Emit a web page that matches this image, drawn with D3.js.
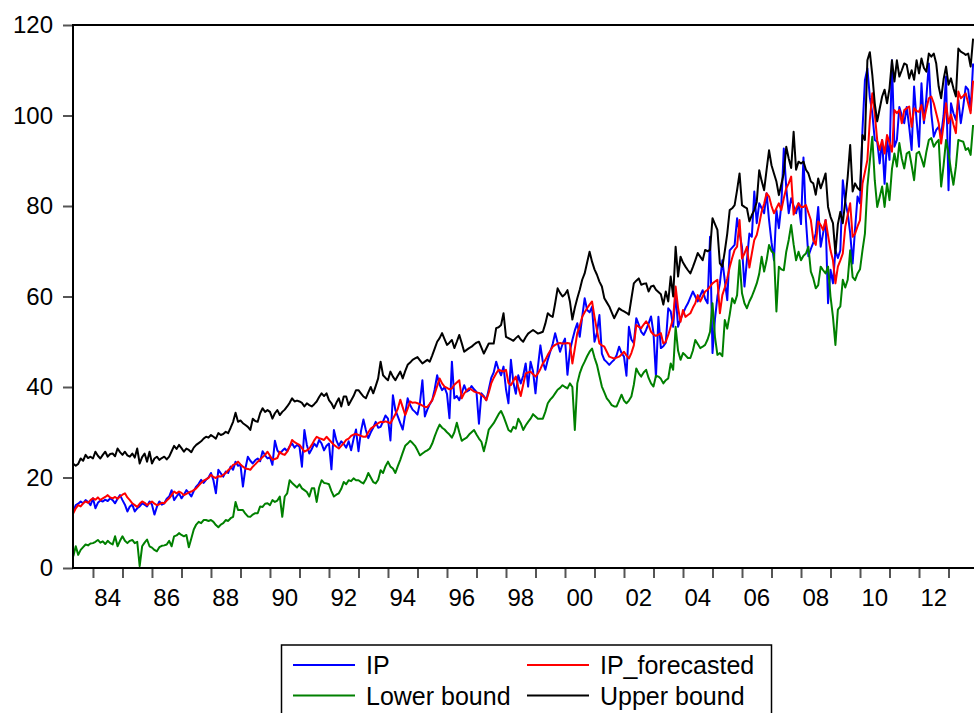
<!DOCTYPE html>
<html>
<head>
<meta charset="utf-8">
<script src="https://cdn.jsdelivr.net/npm/d3@7"></script>
<style>
    body { margin: 0; background: #fff; }
    svg { display: block; font-family: Arial, "Liberation Sans", sans-serif; }
</style>
</head>
<body>
<div id="chart"></div>
<script>
// monthly observations, first one is 1983M5, last one is 2013M11
const startYear = 1983;
const startMonth = 5;

const ip = [
    12.5, 13.9, 14.2, 14.7, 14.3, 15.0, 14.6, 13.9,
    15.4, 13.2, 14.4, 14.9, 14.7, 15.1, 14.8, 15.4, 15.0, 14.3, 15.3, 16.1,
    15.0, 14.0, 12.5, 13.6, 14.0, 12.5, 13.2, 13.6, 14.3, 14.0, 13.6, 14.7,
    14.0, 11.8, 13.5, 14.7, 14.0, 14.3, 15.3, 15.8, 17.2, 15.0, 15.8, 16.5,
    15.4, 16.2, 17.2, 16.6, 15.8, 17.0, 18.0, 18.6, 19.5, 18.8, 19.5, 20.0,
    21.0, 19.4, 16.5, 21.7, 20.9, 20.2, 21.3, 21.0, 22.4, 21.7, 23.5, 22.6,
    22.8, 18.0, 22.0, 24.6, 23.7, 23.1, 23.8, 24.2, 23.6, 25.8, 24.9, 24.2,
    24.5, 22.8, 28.1, 26.0, 25.3, 25.9, 26.4, 25.8, 26.9, 27.5, 26.6, 27.2,
    26.8, 22.4, 30.5, 27.2, 25.3, 26.3, 27.5, 26.8, 28.3, 27.5, 26.0, 27.0,
    27.5, 21.8, 30.5, 28.2, 27.0, 28.0, 27.4, 26.6, 28.0, 26.0, 28.5, 30.6,
    25.8, 30.2, 32.8, 30.5, 28.7, 30.0, 31.0, 32.3, 31.0, 31.2, 32.4, 33.7,
    33.0, 28.2, 38.2, 34.9, 33.5, 32.0, 30.6, 34.0, 37.5, 36.0, 35.0, 34.5,
    33.9, 36.5, 41.5, 33.5, 35.0, 36.2, 37.1, 39.5, 42.6, 40.5, 39.3, 39.9,
    38.5, 33.1, 45.6, 37.5, 38.0, 37.1, 38.6, 40.4, 39.0, 39.3, 40.2, 39.5,
    38.9, 31.9, 38.6, 38.0, 37.1, 39.5, 42.0, 43.2, 45.6, 43.8, 42.6, 44.5,
    39.5, 36.4, 46.0, 41.0, 38.5, 42.6, 40.8, 42.5, 45.2, 40.1, 45.6, 43.5,
    38.6, 44.5, 49.2, 45.5, 43.8, 46.0, 47.8, 49.5, 51.9, 49.8, 47.8, 49.5,
    50.7, 42.7, 48.0, 50.4, 52.5, 54.1, 51.1, 55.5, 59.6, 57.0, 56.5, 57.7,
    50.0, 52.0, 55.9, 47.4, 46.0, 45.5, 44.9, 45.5, 46.0, 47.0, 48.9, 47.5,
    46.7, 42.5, 53.3, 50.5, 49.7, 55.2, 53.8, 52.2, 51.5, 52.6, 54.0, 55.6,
    51.9, 42.2, 55.5, 48.6, 49.0, 49.8, 57.4, 56.7, 53.3, 60.7, 53.3, 55.0,
    56.3, 57.5, 58.5, 59.8, 61.1, 60.0, 58.9, 60.2, 61.4, 59.5, 58.5, 73.2,
    47.5, 55.0, 60.0, 62.9, 68.0, 63.5, 59.2, 70.2, 70.8, 71.4, 77.3, 74.0,
    70.9, 62.2, 68.0, 73.9, 73.2, 83.2, 76.2, 80.6, 79.5, 78.4, 82.8, 76.9,
    72.0, 68.0, 79.1, 75.1, 80.3, 92.7, 84.0, 78.4, 81.7, 80.0, 78.4, 80.6,
    76.0, 90.7, 76.9, 68.9, 70.5, 71.9, 74.0, 79.8, 71.0, 74.0, 76.9, 58.5,
    65.9, 62.9, 70.2, 68.5, 70.2, 85.7, 81.0, 78.4, 74.0, 67.3, 75.0, 82.1,
    80.6, 96.8, 107.8, 110.4, 104.0, 100.5, 94.6, 94.2, 89.4, 94.6, 84.9, 94.6,
    90.2, 112.2, 93.1, 94.6, 101.9, 100.0, 98.3, 101.9, 97.5, 92.4, 106.4, 99.0,
    93.1, 107.1, 98.3, 104.0, 111.5, 100.5, 95.3, 96.8, 97.5, 95.7, 100.0, 108.6,
    83.5, 102.7, 100.5, 99.0, 103.4, 98.3, 102.0, 106.4, 105.7, 101.2, 111.5
];

const ipForecasted = [
    12.1, 13.2, 13.9, 13.6, 14.3, 14.7, 14.4, 15.0,
    15.4, 15.1, 15.6, 15.0, 15.4, 15.7, 16.1, 15.6, 15.4, 15.7, 15.3, 15.8,
    16.2, 16.5, 15.6, 15.0, 14.3, 13.9, 13.5, 14.2, 14.7, 14.4, 13.9, 14.3,
    14.7, 14.2, 13.9, 14.1, 14.4, 14.3, 14.9, 15.4, 16.1, 16.9, 16.5, 16.9,
    16.6, 16.1, 16.4, 16.7, 16.9, 17.2, 17.6, 18.2, 18.8, 19.3, 19.6, 19.9,
    20.6, 20.1, 19.9, 20.3, 20.2, 20.6, 21.0, 21.6, 22.1, 22.8, 23.0, 23.5,
    22.9, 22.4, 22.0, 21.9, 21.7, 22.4, 22.9, 23.5, 24.0, 24.5, 25.0, 25.7,
    24.8, 23.9, 24.1, 24.3, 25.7, 25.2, 25.0, 25.7, 26.8, 28.3, 27.8, 27.5,
    27.2, 26.5, 25.7, 26.0, 26.4, 27.2, 28.2, 29.0, 28.7, 28.5, 28.3, 29.0,
    28.4, 27.8, 27.2, 26.8, 26.4, 27.0, 27.6, 28.3, 28.6, 29.2, 29.5, 29.6,
    29.4, 29.2, 29.0, 29.0, 30.0, 30.8, 31.2, 31.6, 32.0, 32.3, 32.2, 32.4,
    32.2, 32.0, 33.0, 34.0, 35.2, 37.2, 35.5, 33.8, 35.2, 36.8, 36.5, 36.6,
    36.4, 36.2, 35.9, 35.6, 35.6, 36.3, 37.1, 38.5, 40.2, 41.9, 40.8, 40.1,
    39.8, 39.5, 39.7, 40.5, 41.0, 41.5, 37.5, 38.6, 39.2, 39.7, 39.4, 39.0,
    38.8, 38.7, 38.3, 37.8, 37.1, 38.8, 40.8, 42.0, 43.0, 43.8, 43.6, 43.4,
    43.8, 40.9, 40.4, 41.4, 42.3, 40.0, 38.0, 40.5, 43.0, 43.2, 43.4, 42.8,
    42.3, 43.0, 44.0, 45.2, 46.0, 47.1, 48.0, 48.9, 49.3, 49.6, 49.7, 49.6,
    49.6, 49.7, 49.6, 45.2, 48.5, 51.9, 53.5, 55.5, 56.5, 57.4, 58.2, 58.9,
    55.5, 52.5, 49.6, 49.2, 48.9, 47.8, 46.7, 46.5, 46.3, 46.5, 46.7, 47.2,
    47.8, 47.0, 46.3, 47.5, 49.2, 53.7, 53.3, 53.0, 53.8, 54.5, 53.7, 52.2,
    51.6, 51.3, 51.6, 51.9, 49.6, 50.0, 51.5, 53.3, 55.2, 62.2, 57.5, 54.4,
    57.0, 55.5, 55.9, 56.3, 57.5, 58.5, 60.3, 58.9, 60.0, 61.1, 61.5, 62.2,
    62.9, 63.3, 63.7, 56.3, 60.3, 62.0, 64.0, 66.5, 68.5, 70.3, 71.0, 76.9,
    68.4, 69.5, 71.0, 66.4, 69.5, 72.5, 73.6, 76.0, 78.8, 80.5, 82.8, 82.1,
    80.0, 78.4, 79.5, 80.6, 79.1, 81.7, 83.9, 85.0, 86.5, 78.1, 79.5, 80.6,
    79.8, 79.8, 80.2, 78.5, 76.9, 72.5, 71.4, 76.6, 75.8, 74.7, 76.9, 73.5,
    70.2, 68.0, 62.9, 66.6, 68.0, 69.5, 75.4, 78.0, 80.6, 73.2, 73.9, 75.5,
    76.9, 84.9, 87.5, 90.2, 99.0, 104.9, 100.5, 94.5, 92.4, 94.6, 91.6, 95.7,
    94.0, 92.0, 101.2, 100.5, 101.2, 98.3, 101.2, 101.6, 102.0, 97.5, 101.6, 101.0,
    100.8, 102.3, 99.0, 101.5, 103.8, 104.2, 102.7, 100.5, 98.3, 93.8, 98.0, 102.7,
    98.3, 100.2, 98.0, 96.1, 105.3, 103.8, 104.3, 104.9, 102.7, 100.5, 107.7
];

const lowerBound = [
    2.6, 4.8, 2.9, 4.0, 4.6, 5.2, 5.0, 5.4,
    5.5, 5.8, 6.2, 5.6, 5.9, 5.3, 6.0, 5.5, 5.2, 7.0, 4.8, 6.0,
    7.0, 6.0, 5.5, 6.0, 6.2, 5.5, 5.8, 0.4, 4.8, 5.6, 6.3, 4.8,
    4.5, 4.0, 3.7, 4.6, 4.9, 5.0, 5.2, 6.0, 4.8, 7.0, 7.2, 7.7,
    7.3, 7.0, 7.3, 4.6, 6.5, 8.5, 9.6, 10.2, 9.9, 10.6, 10.6, 10.4,
    10.6, 10.2, 9.5, 9.0, 9.6, 9.9, 10.6, 10.4, 11.0, 11.3, 14.6, 12.8,
    12.8, 12.8, 12.0, 11.4, 11.3, 11.8, 12.1, 12.1, 13.6, 13.5, 14.2, 14.3,
    13.9, 15.0, 14.6, 14.9, 15.8, 11.3, 15.8, 16.5, 19.4, 18.8, 18.3, 17.8,
    18.5, 17.6, 17.2, 16.8, 15.8, 17.6, 17.6, 14.6, 17.8, 19.4, 18.8, 18.7,
    18.5, 17.0, 15.8, 16.2, 16.5, 17.5, 19.0, 18.5, 19.4, 19.2, 19.8, 19.4,
    19.4, 19.0, 18.7, 19.6, 21.0, 20.0, 19.0, 18.7, 19.5, 21.6, 21.0, 22.5,
    23.5, 22.4, 22.0, 21.0, 22.5, 23.9, 25.5, 27.0, 27.5, 28.1, 27.6, 27.0,
    26.0, 24.9, 25.3, 25.7, 26.0, 26.4, 27.5, 29.1, 30.5, 31.7, 31.0, 30.6,
    30.0, 29.5, 28.8, 30.0, 32.1, 30.0, 28.1, 28.5, 28.8, 29.5, 30.0, 30.5,
    29.5, 28.6, 27.9, 25.8, 28.0, 30.6, 31.3, 32.0, 33.0, 34.0, 34.7, 33.5,
    32.0, 30.5, 30.1, 31.2, 30.8, 33.0, 32.0, 30.5, 31.5, 32.3, 33.0, 34.0,
    33.5, 33.0, 33.0, 33.0, 34.5, 36.4, 37.2, 37.8, 38.6, 39.4, 39.8, 40.4,
    40.0, 39.7, 40.8, 40.0, 30.5, 40.8, 43.0, 44.5, 45.6, 46.8, 47.8, 48.5,
    46.5, 44.9, 42.5, 40.1, 38.8, 37.5, 36.8, 36.0, 35.7, 35.7, 37.0, 38.3,
    37.0, 36.4, 37.0, 37.9, 40.5, 44.1, 43.0, 42.3, 43.2, 43.8, 42.0, 40.8,
    40.1, 42.5, 42.3, 41.8, 40.8, 41.5, 41.9, 45.2, 43.8, 53.3, 48.0, 46.0,
    47.5, 47.0, 46.4, 46.4, 48.0, 50.4, 49.5, 48.6, 48.9, 49.3, 50.5, 52.2,
    58.5, 51.1, 47.1, 47.5, 46.8, 54.8, 52.9, 56.0, 59.6, 58.5, 60.3, 68.0,
    60.7, 58.5, 57.4, 58.9, 60.0, 61.4, 62.9, 65.0, 68.8, 65.5, 68.0, 71.4,
    70.0, 69.5, 56.7, 66.6, 66.0, 65.8, 69.9, 72.5, 75.8, 71.5, 68.0, 69.9,
    68.0, 69.0, 69.5, 71.0, 65.5, 64.0, 61.8, 62.5, 66.6, 65.8, 65.1, 66.6,
    60.0, 55.5, 49.3, 57.1, 57.8, 63.7, 62.0, 63.7, 70.2, 64.3, 63.6, 65.1,
    66.0, 70.2, 73.9, 84.3, 90.0, 95.3, 85.7, 79.8, 82.0, 84.3, 79.8, 85.0,
    81.3, 88.2, 91.6, 88.7, 93.9, 90.5, 88.3, 91.6, 92.0, 89.0, 85.7, 91.6,
    92.0, 90.5, 88.7, 92.0, 94.6, 95.0, 93.1, 94.0, 94.6, 84.3, 89.0, 94.6,
    91.6, 87.9, 84.7, 88.7, 94.6, 94.4, 94.2, 92.4, 92.8, 91.3, 97.9
];

const upperBound = [
    23.0, 22.6, 23.0, 24.2, 23.7, 25.0, 24.3, 24.6,
    24.2, 25.7, 24.8, 24.2, 25.0, 25.7, 24.6, 25.2, 25.3, 24.7, 26.4, 25.6,
    25.0, 25.7, 24.9, 24.6, 25.3, 24.4, 26.4, 23.1, 24.5, 25.3, 23.5, 25.7,
    23.1, 24.2, 24.6, 23.9, 24.3, 24.6, 24.0, 24.6, 25.8, 27.0, 26.3, 27.2,
    26.5, 25.7, 26.4, 26.1, 25.6, 26.6, 27.2, 27.6, 28.0, 28.6, 29.0, 28.8,
    29.4, 29.0, 28.6, 29.8, 29.4, 29.6, 30.1, 29.8, 31.0, 32.3, 34.3, 32.3,
    32.6, 32.0, 31.6, 31.2, 30.5, 33.0, 32.5, 32.3, 34.2, 35.3, 34.5, 34.9,
    34.5, 33.0, 34.2, 34.9, 33.8, 34.5, 35.0, 35.7, 36.5, 37.5, 36.8, 37.0,
    36.8, 36.5, 35.7, 36.4, 36.0, 35.7, 36.2, 36.8, 37.8, 38.6, 38.0, 38.6,
    37.1, 36.4, 35.3, 36.5, 37.5, 35.7, 37.9, 37.9, 36.0, 37.0, 38.0, 39.3,
    39.3, 38.6, 37.9, 37.5, 38.8, 40.0, 38.6, 40.2, 41.9, 45.6, 42.6, 42.0,
    41.5, 43.4, 42.3, 41.5, 42.5, 43.4, 41.9, 43.5, 44.9, 45.4, 46.0, 46.3,
    46.6, 45.9, 45.2, 45.6, 46.0, 45.6, 47.0, 48.5, 50.0, 50.8, 51.9, 50.6,
    49.3, 49.8, 50.4, 48.6, 50.0, 51.5, 49.7, 47.8, 48.2, 48.6, 48.9, 49.4,
    49.8, 50.0, 48.7, 47.4, 48.5, 49.6, 49.6, 49.6, 53.0, 53.2, 53.7, 56.3,
    51.1, 50.8, 50.5, 50.2, 50.8, 51.3, 50.5, 50.0, 51.0, 51.8, 52.2, 52.6,
    52.2, 51.8, 52.0, 52.2, 54.0, 56.3, 55.8, 55.5, 58.5, 61.8, 60.8, 60.0,
    60.5, 61.4, 58.9, 54.9, 57.5, 59.6, 61.5, 63.7, 65.1, 67.5, 69.9, 67.7,
    66.0, 64.8, 63.3, 62.2, 59.6, 58.7, 57.8, 56.5, 55.2, 56.3, 57.4, 57.0,
    56.7, 56.4, 56.0, 59.5, 62.9, 63.5, 64.0, 62.6, 62.8, 62.9, 61.1, 62.2,
    62.4, 61.5, 61.0, 60.5, 58.2, 61.1, 58.9, 64.4, 60.0, 71.0, 64.4, 68.8,
    67.5, 66.6, 65.8, 65.1, 66.5, 68.0, 69.6, 68.8, 68.0, 70.3, 70.0, 70.3,
    77.3, 76.0, 74.7, 67.3, 66.6, 70.0, 73.9, 79.1, 79.5, 80.2, 83.5, 87.2,
    80.2, 79.8, 79.5, 76.6, 78.0, 79.1, 80.9, 87.9, 85.5, 83.5, 88.0, 92.3,
    89.0, 87.2, 85.4, 82.4, 84.8, 87.2, 93.1, 90.5, 88.4, 96.4, 88.0, 89.8,
    89.4, 89.8, 88.0, 87.2, 85.4, 85.0, 82.5, 86.1, 83.9, 85.5, 87.2, 79.8,
    77.6, 76.2, 69.5, 76.0, 78.7, 76.2, 81.0, 86.5, 93.5, 83.2, 85.0, 84.0,
    83.5, 95.7, 94.6, 112.2, 114.0, 109.0, 102.7, 98.7, 101.5, 104.2, 105.7, 102.7,
    106.0, 112.2, 107.5, 112.2, 108.6, 110.0, 111.5, 111.2, 108.2, 110.0, 107.9, 112.2,
    109.3, 112.6, 110.5, 109.7, 113.7, 113.0, 113.7, 111.5, 106.4, 103.8, 108.0, 110.8,
    106.8, 108.2, 106.0, 104.2, 114.8, 114.1, 113.8, 113.4, 113.7, 110.8, 117.0
];

const yTicks = [0, 20, 40, 60, 80, 100, 120];
const labelYears = [1984, 1986, 1988, 1990, 1992, 1994, 1996, 1998,
                    2000, 2002, 2004, 2006, 2008, 2010, 2012];
const seriesNames = ['IP', 'IP_forecasted', 'Lower bound', 'Upper bound'];

const colors = ['#0000ff', '#ff0000', '#008000', '#000000'];
const allSeries = [ip, ipForecasted, lowerBound, upperBound];

const width = 974;
const height = 713;
const plotLeft = 73;
const plotTop = 25;
const plotBottom = 568;
const fontSize = 24;

const svg = d3.select('#chart')
    .append('svg')
        .attr('width', width)
        .attr('height', height)
        .attr('viewBox', [0, 0, width, height]);

svg.append('rect')
    .attr('width', width)
    .attr('height', height)
    .attr('fill', '#fff');

// time in fractional years, one observation per month
const timeOf = i => startYear + (startMonth - 1 + i) / 12;
const nObs = ip.length;

const x = d3.scaleLinear()
    .domain([timeOf(0), timeOf(nObs - 1)])
    .range([73.3, 973.1]);

const y = d3.scaleLinear()
    .domain([0, 120])
    .range([plotBottom, plotTop]);

// y axis
const yAxis = svg.append('g')
    .attr('transform', `translate(${plotLeft},0)`)
    .call(d3.axisLeft(y).tickValues(yTicks).tickSize(10).tickPadding(10));
yAxis.select('.domain').remove();
yAxis.selectAll('line').attr('stroke', '#555').attr('stroke-width', 2);
yAxis.selectAll('text')
    .attr('font-size', fontSize)
    .attr('font-family', 'Arial, "Liberation Sans", sans-serif')
    .attr('fill', '#000');

// x axis: a tick at every year start, labels every second year in the middle of the year
const xAxis = svg.append('g')
    .attr('transform', `translate(0,${plotBottom})`)
    .call(d3.axisBottom(x).tickValues(d3.range(1984, 2014)).tickSize(10).tickFormat(''));
xAxis.select('.domain').remove();
xAxis.selectAll('line').attr('stroke', '#555').attr('stroke-width', 2);

svg.append('g')
    .selectAll('text')
    .data(labelYears)
    .join('text')
        .attr('x', d => x(d + 0.5))
        .attr('y', 606)
        .attr('text-anchor', 'middle')
        .attr('font-size', fontSize)
        .attr('fill', '#000')
        .text(d => String(d % 100).padStart(2, '0'));

// series
const line = d3.line()
    .x((d, i) => x(timeOf(i)))
    .y(d => y(d));

svg.append('g')
    .selectAll('path')
    .data(allSeries)
    .join('path')
        .attr('d', d => line(d))
        .attr('fill', 'none')
        .attr('stroke', (d, i) => colors[i])
        .attr('stroke-width', 2)
        .attr('stroke-linejoin', 'round');

// frame (right side runs off the picture)
svg.append('path')
    .attr('d', `M${width + 2},${plotTop}H${plotLeft}V${plotBottom}H${width + 2}`)
    .attr('fill', 'none')
    .attr('stroke', '#000')
    .attr('stroke-width', 2);

// legend
const legend = svg.append('g');
legend.append('rect')
    .attr('x', 281.5)
    .attr('y', 645)
    .attr('width', 490)
    .attr('height', 90)
    .attr('fill', '#fff')
    .attr('stroke', '#000')
    .attr('stroke-width', 1.5);

const colX = [293, 527];
const rowY = [665, 695.5];

const items = legend.selectAll('g')
    .data(seriesNames)
    .join('g')
        .attr('transform', (d, i) => `translate(${colX[i % 2]},${rowY[Math.floor(i / 2)]})`);

items.append('line')
    .attr('x1', 0)
    .attr('x2', 62)
    .attr('stroke', (d, i) => colors[i])
    .attr('stroke-width', 2);

items.append('text')
    .attr('x', 73)
    .attr('y', 9)
    .attr('font-size', 25)
    .attr('fill', '#000')
    .text(d => d);
</script>
</body>
</html>
